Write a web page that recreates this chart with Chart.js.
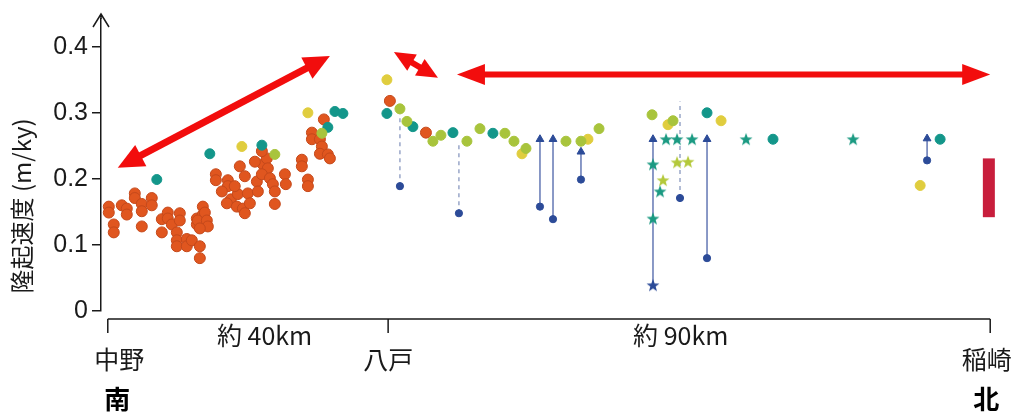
<!DOCTYPE html>
<html>
<head>
<meta charset="utf-8">
<script src="https://cdn.jsdelivr.net/npm/chart.js@4.4.1/dist/chart.umd.min.js"></script>
<style>
  html, body { margin: 0; padding: 0; background: #fff; }
  #wrap { width: 1014px; height: 416px; position: relative; }
</style>
</head>
<body>
<div id="wrap"><canvas id="uplift-chart"></canvas></div>
<script>
// x = distance along the coast from 中野 (km, south -> north), y = uplift rate (m/ky)
const yTicks = [0, 0.1, 0.2, 0.3, 0.4];
const stations = [
  { label: "中野", x: 0, labelX: 1.7 },
  { label: "八戸", x: 41.3, labelX: 41.3 },
  { label: "稲崎", x: 130, labelX: 129.5 },
];
const spans = [
  { label: "約 40km", x: 23.1 },
  { label: "約 90km", x: 84.4 },
];
const directions = [
  { label: "南", x: 1.4 },
  { label: "北", x: 129.4 },
];

const orangeCircles = [
  [0.15, 0.158], [0.15, 0.149], [0.88, 0.131], [0.88, 0.119], [2.06, 0.160],
  [2.8, 0.155], [2.8, 0.146], [3.98, 0.178], [3.98, 0.171], [5.01, 0.162],
  [5.01, 0.151], [5.01, 0.128], [6.48, 0.171], [6.48, 0.160], [7.96, 0.139],
  [7.96, 0.119], [8.84, 0.149], [8.84, 0.140], [9.43, 0.131], [10.61, 0.148],
  [10.61, 0.137], [10.17, 0.119], [10.17, 0.107], [10.17, 0.098], [11.64, 0.109],
  [11.64, 0.098], [12.38, 0.107], [13.56, 0.098], [13.56, 0.080], [13.12, 0.140],
  [13.12, 0.131], [14.0, 0.158], [14.0, 0.146], [13.26, 0.137], [14.3, 0.149],
  [14.59, 0.137], [14.74, 0.128], [13.56, 0.125], [15.92, 0.207], [15.92, 0.198],
  [17.69, 0.198], [17.69, 0.189], [18.13, 0.169], [17.54, 0.163], [19.16, 0.177],
  [19.01, 0.158], [19.9, 0.155], [20.19, 0.148], [20.63, 0.178], [20.93, 0.163],
  [21.96, 0.196], [22.11, 0.181], [22.84, 0.222], [23.43, 0.231], [23.58, 0.216],
  [22.7, 0.207], [23.88, 0.201], [24.32, 0.192], [24.61, 0.181], [24.61, 0.162],
  [26.09, 0.207], [26.23, 0.192], [28.59, 0.229], [28.59, 0.219], [29.48, 0.199],
  [29.48, 0.189], [31.83, 0.290], [30.07, 0.270], [30.07, 0.260], [31.25, 0.260],
  [31.54, 0.249], [31.25, 0.238], [32.42, 0.237], [32.72, 0.231], [19.45, 0.219],
  [20.19, 0.204], [21.67, 0.226], [22.7, 0.242], [16.8, 0.181], [18.7, 0.189],
  [41.56, 0.318], [46.87, 0.270],
];
const tealCircles = [
  [7.22, 0.199], [15.03, 0.238], [22.7, 0.251], [32.42, 0.278], [33.46, 0.302],
  [34.64, 0.299], [41.12, 0.299], [44.95, 0.279], [50.85, 0.270], [56.74, 0.269],
  [88.28, 0.300], [98.0, 0.260], [122.62, 0.260],
];
const yellowCircles = [
  [19.75, 0.249], [29.48, 0.300], [41.12, 0.350], [61.02, 0.238], [70.74, 0.260],
  [82.53, 0.282], [90.35, 0.288], [119.68, 0.190],
];
const limeCircles = [
  [24.61, 0.237], [31.54, 0.269], [43.04, 0.306], [44.07, 0.287], [47.9, 0.257],
  [49.08, 0.266], [52.91, 0.257], [54.83, 0.276], [58.51, 0.269], [59.84, 0.257],
  [61.61, 0.246], [67.5, 0.257], [69.71, 0.257], [72.37, 0.276], [80.18, 0.297],
  [83.27, 0.288],
];
const tealStars = [
  [82.24, 0.260], [83.86, 0.260], [86.07, 0.260], [80.32, 0.222], [81.36, 0.181],
  [80.32, 0.140], [94.03, 0.260], [109.8, 0.260],
];
const limeStars = [[83.86, 0.225], [85.48, 0.226], [81.8, 0.198]];
const navyStars = [[80.32, 0.039]];
const navyCircles = [
  [43.04, 0.189], [51.73, 0.148], [63.67, 0.158], [65.59, 0.139], [69.71, 0.199],
  [84.3, 0.171], [88.28, 0.080], [120.7, 0.228],
];
// minimum values pushed up to a lower bound: [x, from, to]
const solidStems = [
  [63.67, 0.158, 0.26], [65.59, 0.139, 0.26], [69.71, 0.199, 0.241],
  [80.32, 0.039, 0.26], [88.28, 0.080, 0.26], [120.7, 0.228, 0.261],
];
const dashedStems = [[43.04, 0.189, 0.302], [51.73, 0.148, 0.252], [84.3, 0.171, 0.317]];
const rangeBar = [129.8, 0.142, 0.231];
// red double arrows: [x1, y1, x2, y2]
const redArrows = [
  [1.47, 0.217, 32.72, 0.386],
  [42.15, 0.392, 48.64, 0.353],
  [51.44, 0.358, 130, 0.358],
];

const pts = (arr) => arr.map(([x, y]) => ({ x, y }));
const stems = (arr) =>
  arr.flatMap(([x, a, b]) => [{ x, y: a }, { x, y: b }, { x, y: null }]);

const makeStar = (color) => {
  const c = document.createElement("canvas");
  c.width = 14;
  c.height = 14;
  const g = c.getContext("2d");
  g.beginPath();
  for (let i = 0; i < 10; i++) {
    const r = i % 2 === 0 ? 6.8 : 2.8;
    const a = -Math.PI / 2 + (i * Math.PI) / 5;
    g.lineTo(7 + r * Math.cos(a), 7.5 + r * Math.sin(a));
  }
  g.closePath();
  g.fillStyle = color;
  g.fill();
  return c;
};

const CJK = '"Noto Sans CJK JP", "Noto Sans", sans-serif';
const LAT = '"Liberation Sans", Arial, sans-serif';

const drawDoubleArrow = (ctx, x1, y1, x2, y2, lw, hl, hw) => {
  const ang = Math.atan2(y2 - y1, x2 - x1);
  const ux = Math.cos(ang), uy = Math.sin(ang);
  ctx.save();
  ctx.strokeStyle = "#f20d0d";
  ctx.fillStyle = "#f20d0d";
  ctx.lineWidth = lw;
  ctx.beginPath();
  ctx.moveTo(x1 + ux * hl * 0.8, y1 + uy * hl * 0.8);
  ctx.lineTo(x2 - ux * hl * 0.8, y2 - uy * hl * 0.8);
  ctx.stroke();
  const head = (tx, ty, dx, dy) => {
    const bx = tx - dx * hl, by = ty - dy * hl;
    ctx.beginPath();
    ctx.moveTo(tx, ty);
    ctx.lineTo(bx - dy * hw / 2, by + dx * hw / 2);
    ctx.lineTo(bx + dy * hw / 2, by - dx * hw / 2);
    ctx.closePath();
    ctx.fill();
  };
  head(x2, y2, ux, uy);
  head(x1, y1, -ux, -uy);
  ctx.restore();
};

const decor = {
  id: "decor",
  afterDatasetsDraw(chart) {
    const { ctx, scales: { x, y } } = chart;
    redArrows.forEach(([a, b, c, d], i) => {
      const big = i === 0 ? [7, 26, 24] : i === 1 ? [6, 21, 19] : [6, 28, 21];
      drawDoubleArrow(ctx, x.getPixelForValue(a), y.getPixelForValue(b),
        x.getPixelForValue(c), y.getPixelForValue(d), ...big);
    });
  },
  afterDraw(chart) {
    const { ctx, chartArea, scales: { x, y } } = chart;
    ctx.save();
    ctx.strokeStyle = "#1a1a1a";
    ctx.lineWidth = 1.5;
    // y axis runs a little past the plot and ends in an open arrow
    const ax = chartArea.left;
    const tip = chartArea.top - 5;
    ctx.beginPath();
    ctx.moveTo(ax, chartArea.top);
    ctx.lineTo(ax, tip);
    ctx.moveTo(ax - 8, tip + 13);
    ctx.lineTo(ax, tip);
    ctx.lineTo(ax + 8, tip + 13);
    ctx.stroke();
    // distance bracket under the plot
    const by = chartArea.bottom + 8;
    const x0 = x.getPixelForValue(stations[0].x);
    const x1 = x.getPixelForValue(stations[stations.length - 1].x);
    ctx.beginPath();
    ctx.moveTo(x0, by);
    ctx.lineTo(x1, by);
    stations.forEach((s) => {
      const px = x.getPixelForValue(s.x);
      ctx.moveTo(px, by);
      ctx.lineTo(px, by + 14);
    });
    ctx.stroke();
    ctx.fillStyle = "#1a1a1a";
    ctx.textAlign = "center";
    ctx.textBaseline = "middle";
    ctx.font = "25px " + CJK;
    spans.forEach((s) => ctx.fillText(s.label, x.getPixelForValue(s.x), by + 16));
    stations.forEach((s) => ctx.fillText(s.label, x.getPixelForValue(s.labelX), by + 40));
    ctx.font = "bold 26px " + CJK;
    ctx.fillStyle = "#000";
    directions.forEach((s) => ctx.fillText(s.label, x.getPixelForValue(s.x), by + 80));
    // y axis title
    ctx.translate(22, chartArea.bottom - 105);
    ctx.rotate(-Math.PI / 2);
    ctx.font = "24px " + CJK;
    ctx.fillStyle = "#1a1a1a";
    ctx.fillText("隆起速度 (m/ky)", 0, 0);
    ctx.restore();
  },
};

window.onload = () => {
  const ctx = document.getElementById("uplift-chart");
  const dot = (data, color, border, r, order) => ({
    data: pts(data),
    backgroundColor: color,
    borderColor: border,
    borderWidth: 1,
    pointRadius: r,
    order,
  });
  new Chart(ctx, {
    type: "scatter",
    data: {
      datasets: [
        {
          data: [{ x: rangeBar[0], y: rangeBar[1] }, { x: rangeBar[0], y: rangeBar[2] }],
          showLine: true,
          borderColor: "#c81e3c",
          borderWidth: 12,
          borderCapStyle: "butt",
          pointRadius: 0,
          order: 9,
        },
        {
          data: stems(solidStems),
          showLine: true,
          spanGaps: false,
          borderColor: "#6478b4",
          borderWidth: 1.5,
          pointRadius: 0,
          order: 8,
        },
        {
          data: stems(dashedStems),
          showLine: true,
          spanGaps: false,
          borderColor: "#7f8fba",
          borderWidth: 1.2,
          borderDash: [4, 4],
          pointRadius: 0,
          order: 8,
        },
        {
          data: solidStems.map(([xv, , top]) => ({ x: xv, y: top })),
          pointStyle: "triangle",
          backgroundColor: "#2c4b98",
          borderColor: "#2c4b98",
          pointRadius: 4.5,
          order: 7,
        },
        dot(orangeCircles, "#e0561f", "#c5491b", 5.5, 6),
        dot(tealCircles, "#13968a", "#13968a", 5, 5),
        dot(yellowCircles, "#e0cd3e", "#e0cd3e", 5, 4),
        dot(limeCircles, "#a8c43c", "#a8c43c", 5, 3),
        dot(navyCircles, "#2c4b98", "#2c4b98", 3.6, 2),
        { data: pts(tealStars), pointStyle: makeStar("#1b9a82"), order: 1 },
        { data: pts(limeStars), pointStyle: makeStar("#b4c93a"), order: 1 },
        { data: pts(navyStars), pointStyle: makeStar("#2c4b98"), order: 1 },
      ],
    },
    options: {
      responsive: true,
      maintainAspectRatio: false,
      animation: false,
      events: [],
      layout: { padding: { top: 7, right: 17, bottom: 105, left: 0 } },
      plugins: { legend: { display: false }, tooltip: { enabled: false } },
      scales: {
        x: { type: "linear", min: -1, max: 131, display: false },
        y: {
          min: 0,
          max: 0.442,
          afterBuildTicks: (scale) => {
            scale.ticks = yTicks.map((v) => ({ value: v }));
          },
          afterFit: (scale) => {
            scale.width = 101;
          },
          border: { display: true, color: "#1a1a1a", width: 1.5 },
          grid: { drawOnChartArea: false, drawTicks: true, tickLength: 9, color: "#1a1a1a", lineWidth: 1.5 },
          ticks: {
            padding: 4,
            color: "#1a1a1a",
            font: { family: LAT, size: 25 },
            callback: (v) => (v === 0 ? "0" : v.toFixed(1)),
          },
        },
      },
    },
    plugins: [decor],
  });
};
</script>
</body>
</html>
